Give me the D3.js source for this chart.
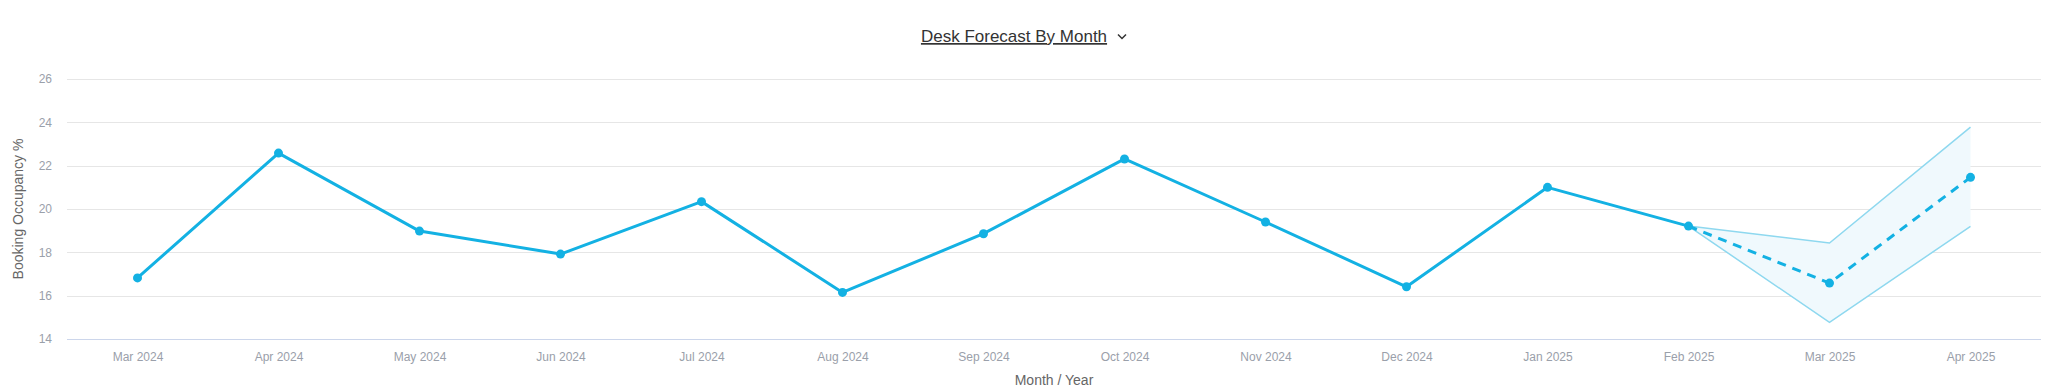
<!DOCTYPE html>
<html>
<head>
<meta charset="utf-8">
<script src="https://cdn.jsdelivr.net/npm/d3@7"></script>
<style>
    body { margin: 0; background: #fff; font-family: "Liberation Sans", Arial, sans-serif; }
    svg { display: block; }
</style>
</head>
<body>
<svg id="chart"></svg>
<script>
// data
const months = ['Mar 2024', 'Apr 2024', 'May 2024', 'Jun 2024', 'Jul 2024', 'Aug 2024', 'Sep 2024',
    'Oct 2024', 'Nov 2024', 'Dec 2024', 'Jan 2025', 'Feb 2025', 'Mar 2025', 'Apr 2025'];
const actual = [16.82, 22.58, 18.98, 17.92, 20.34, 16.15, 18.86, 22.31, 19.4, 16.41, 21.0, 19.21];
const forecastMonths = ['Feb 2025', 'Mar 2025', 'Apr 2025'];
const forecast = [19.21, 16.58, 21.46];
const forecastLow = [19.21, 14.77, 19.2];
const forecastHigh = [19.21, 18.43, 23.78];
const yTicks = [14, 16, 18, 20, 22, 24, 26];

const width = 2051, height = 392;
const margin = { top: 79, right: 10, bottom: 53, left: 67 };
const color = '#13b1e3';

const svg = d3.select('#chart').attr('width', width).attr('height', height);

const x = d3.scalePoint()
    .domain(months)
    .range([margin.left, width - margin.right])
    .padding(0.5);

const y = d3.scaleLinear()
    .domain([14, 26])
    .range([height - margin.bottom, margin.top]);

// grid lines
svg.append('g')
    .selectAll('line')
    .data(yTicks.slice(1))
    .join('line')
    .attr('x1', margin.left)
    .attr('x2', width - margin.right)
    .attr('y1', d => Math.round(y(d)) + 0.5)
    .attr('y2', d => Math.round(y(d)) + 0.5)
    .attr('stroke', '#e6e6e6');

// y axis labels
const yAxis = svg.append('g')
    .attr('transform', `translate(${margin.left - 15},0)`)
    .call(d3.axisLeft(y).tickValues(yTicks).tickSize(0).tickPadding(0));
yAxis.select('.domain').remove();
yAxis.selectAll('text')
    .attr('fill', '#9aa0aa')
    .style('font-size', '12px')
    .style('font-family', '"Liberation Sans", Arial, sans-serif');

// x axis
const xAxis = svg.append('g')
    .attr('transform', `translate(0,${Math.round(y(14)) + 0.5})`)
    .call(d3.axisBottom(x).tickSize(0).tickPadding(13));
xAxis.select('.domain')
    .attr('stroke', '#ccd6eb')
    .attr('d', `M${margin.left},0H${width - margin.right}`);
xAxis.selectAll('text')
    .attr('fill', '#9aa0aa')
    .style('font-size', '12px')
    .style('font-family', '"Liberation Sans", Arial, sans-serif');

// axis titles
svg.append('text')
    .attr('x', (margin.left + width - margin.right) / 2)
    .attr('y', 385)
    .attr('text-anchor', 'middle')
    .attr('fill', '#666')
    .style('font-size', '14px')
    .text('Month / Year');

svg.append('text')
    .attr('transform', `translate(23,${(y(14) + y(26)) / 2}) rotate(-90)`)
    .attr('text-anchor', 'middle')
    .attr('fill', '#666')
    .style('font-size', '14px')
    .text('Booking Occupancy %');

// title
svg.append('text')
    .attr('x', 1014)
    .attr('y', 42)
    .attr('text-anchor', 'middle')
    .attr('fill', '#333')
    .attr('text-decoration', 'underline')
    .style('font-size', '17px')
    .text('Desk Forecast By Month');

svg.append('path')
    .attr('d', 'M1118,34.5l4,4l4,-4')
    .attr('fill', 'none')
    .attr('stroke', '#333')
    .attr('stroke-width', 1.5);

// forecast range
const band = forecastMonths.map((m, i) => ({ m, lo: forecastLow[i], hi: forecastHigh[i] }));
svg.append('path')
    .datum(band)
    .attr('fill', '#f0f9fd')
    .attr('d', d3.area().x(d => x(d.m)).y0(d => y(d.lo)).y1(d => y(d.hi)));
['lo', 'hi'].forEach(k => {
    svg.append('path')
        .datum(band)
        .attr('fill', 'none')
        .attr('stroke', '#8ed8ef')
        .attr('stroke-width', 1.5)
        .attr('d', d3.line().x(d => x(d.m)).y(d => y(d[k])));
});

// forecast dashed line
const fc = forecastMonths.map((m, i) => ({ m, v: forecast[i] }));
svg.append('path')
    .datum(fc)
    .attr('fill', 'none')
    .attr('stroke', color)
    .attr('stroke-width', 3)
    .attr('stroke-dasharray', '9,7')
    .attr('d', d3.line().x(d => x(d.m)).y(d => y(d.v)));

// actual line
const act = actual.map((v, i) => ({ m: months[i], v }));
svg.append('path')
    .datum(act)
    .attr('fill', 'none')
    .attr('stroke', color)
    .attr('stroke-width', 3)
    .attr('stroke-linejoin', 'round')
    .attr('d', d3.line().x(d => x(d.m)).y(d => y(d.v)));

// markers
svg.append('g')
    .selectAll('circle')
    .data(act.concat(fc.slice(1)))
    .join('circle')
    .attr('cx', d => x(d.m))
    .attr('cy', d => y(d.v))
    .attr('r', 4.5)
    .attr('fill', color);
</script>
</body>
</html>
